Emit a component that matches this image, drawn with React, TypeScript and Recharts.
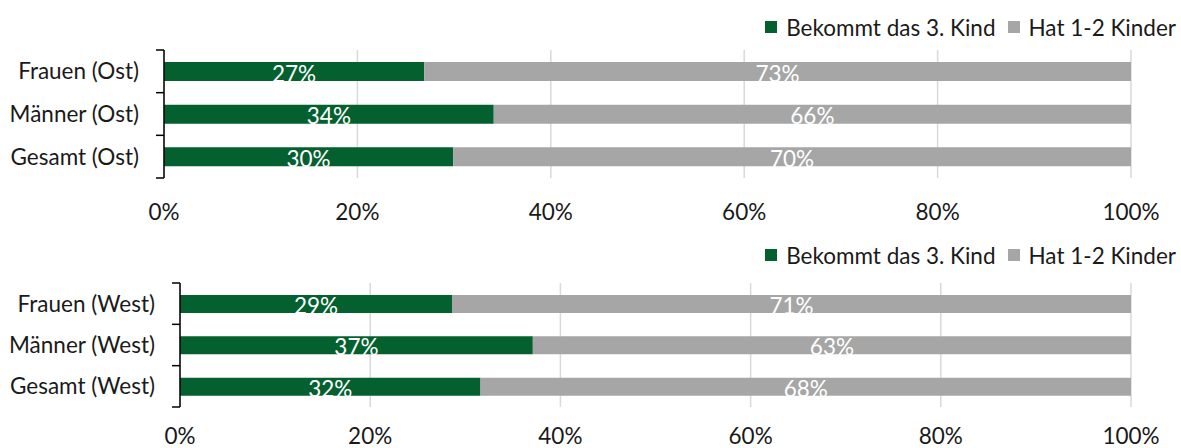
import React from 'react';
import { BarChart, Bar, XAxis, YAxis, CartesianGrid, Legend, LabelList } from 'recharts';

const ostCategories = ['Frauen (Ost)', 'Männer (Ost)', 'Gesamt (Ost)'];
const ostThird = [26.9, 34.1, 29.9];
const ostOneTwo = [73.1, 65.9, 70.1];

const westCategories = ['Frauen (West)', 'Männer (West)', 'Gesamt (West)'];
const westThird = [28.6, 37.1, 31.6];
const westOneTwo = [71.4, 62.9, 68.4];

const xTicks = [0, 20, 40, 60, 80, 100];
const seriesNames = { third: 'Bekommt das 3. Kind', oneTwo: 'Hat 1-2 Kinder' };

const GREEN = '#05602f';
const GRAY = '#a6a6a6';
const FONT = 'Lato, "Open Sans", sans-serif';
const FS = 22.5;

const toRows = (cats: string[], a: number[], b: number[]) =>
  cats.map((name, i) => ({ name, third: a[i], oneTwo: b[i] }));

const ValueLabel = (p: any) => {
  const { x, y, width, height, value } = p;
  return (
    <text
      x={x + width / 2}
      y={y + height / 2 + 10}
      textAnchor="middle"
      fill="#fff"
      fontSize={FS}
      fontFamily={FONT}
    >
      {Math.round(value)}%
    </text>
  );
};

const LegendBox = (props: any) => (
  <div
    style={{
      display: 'flex',
      justifyContent: 'flex-end',
      alignItems: 'center',
      height: 24,
      fontFamily: FONT,
      fontSize: FS,
      color: '#1a1a1a',
      paddingRight: 5,
      whiteSpace: 'nowrap',
    }}
  >
    {props.payload.map((e: any, i: number) => (
      <span key={i} style={{ display: 'flex', alignItems: 'center', marginLeft: i ? 12 : 0 }}>
        <span style={{ width: 12, height: 12, background: e.color, marginRight: 9 }} />
        {e.value}
      </span>
    ))}
  </div>
);

function Panel({
  cats,
  a,
  b,
  height,
  top,
  plotH,
  axisW,
  barSize,
  legendTop,
  xAxisH,
  tickDy,
}: {
  cats: string[];
  a: number[];
  b: number[];
  height: number;
  top: number;
  plotH: number;
  axisW: number;
  barSize: number;
  legendTop: number;
  xAxisH: number;
  tickDy: number;
}) {
  const band = plotH / cats.length;
  const YTick = (p: any) => {
    const { x, y, payload, index } = p;
    return (
      <g>
        <line x1={x - 8} x2={x} y1={y - band / 2} y2={y - band / 2} stroke="#000" strokeWidth={1.5} />
        {index === cats.length - 1 && (
          <line x1={x - 8} x2={x} y1={y + band / 2} y2={y + band / 2} stroke="#000" strokeWidth={1.5} />
        )}
        <text x={x - 25} y={y + 8} textAnchor="end" fontSize={FS} fontFamily={FONT} fill="#1a1a1a">
          {payload.value}
        </text>
      </g>
    );
  };
  const XTick = (p: any) => (
    <text x={p.x} y={p.y + tickDy} textAnchor="middle" fontSize={FS} fontFamily={FONT} fill="#1a1a1a">
      {p.payload.value}%
    </text>
  );
  return (
    <BarChart
      width={1181}
      height={height}
      data={toRows(cats, a, b)}
      layout="vertical"
      margin={{ top, right: 50, bottom: 0, left: 0 }}
      barSize={barSize}
    >
      <CartesianGrid horizontal={false} stroke="#d9d9d9" strokeWidth={1.5} />
      <XAxis
        type="number"
        domain={[0, 100]}
        ticks={xTicks}
        axisLine={false}
        tickLine={false}
        tickSize={0}
        tickMargin={0}
        height={xAxisH}
        tick={<XTick />}
        interval={0}
      />
      <YAxis
        type="category"
        dataKey="name"
        width={axisW}
        axisLine={{ stroke: '#000', strokeWidth: 1.5 }}
        tickLine={false}
        tickSize={0}
        tickMargin={0}
        tick={<YTick />}
        interval={0}
      />
      <Legend
        verticalAlign="middle"
        layout="horizontal"
        wrapperStyle={{ top: legendTop, left: 0, width: 1181 }}
        content={<LegendBox />}
      />
      <Bar dataKey="third" name={seriesNames.third} stackId="s" fill={GREEN} isAnimationActive={false}>
        <LabelList dataKey="third" content={<ValueLabel />} />
      </Bar>
      <Bar dataKey="oneTwo" name={seriesNames.oneTwo} stackId="s" fill={GRAY} isAnimationActive={false}>
        <LabelList dataKey="oneTwo" content={<ValueLabel />} />
      </Bar>
    </BarChart>
  );
}

export default function App() {
  return (
    <div style={{ position: 'absolute', left: 0, top: 0, width: 1181, height: 448, background: '#fff' }}>
      <Panel
        cats={ostCategories}
        a={ostThird}
        b={ostOneTwo}
        height={230}
        top={50}
        plotH={128}
        axisW={164}
        barSize={19}
        legendTop={15}
        xAxisH={52}
        tickDy={42}
      />
      <Panel
        cats={westCategories}
        a={westThird}
        b={westOneTwo}
        height={218}
        top={53}
        plotH={124}
        axisW={180}
        barSize={18}
        legendTop={13}
        xAxisH={41}
        tickDy={37}
      />
    </div>
  );
}
